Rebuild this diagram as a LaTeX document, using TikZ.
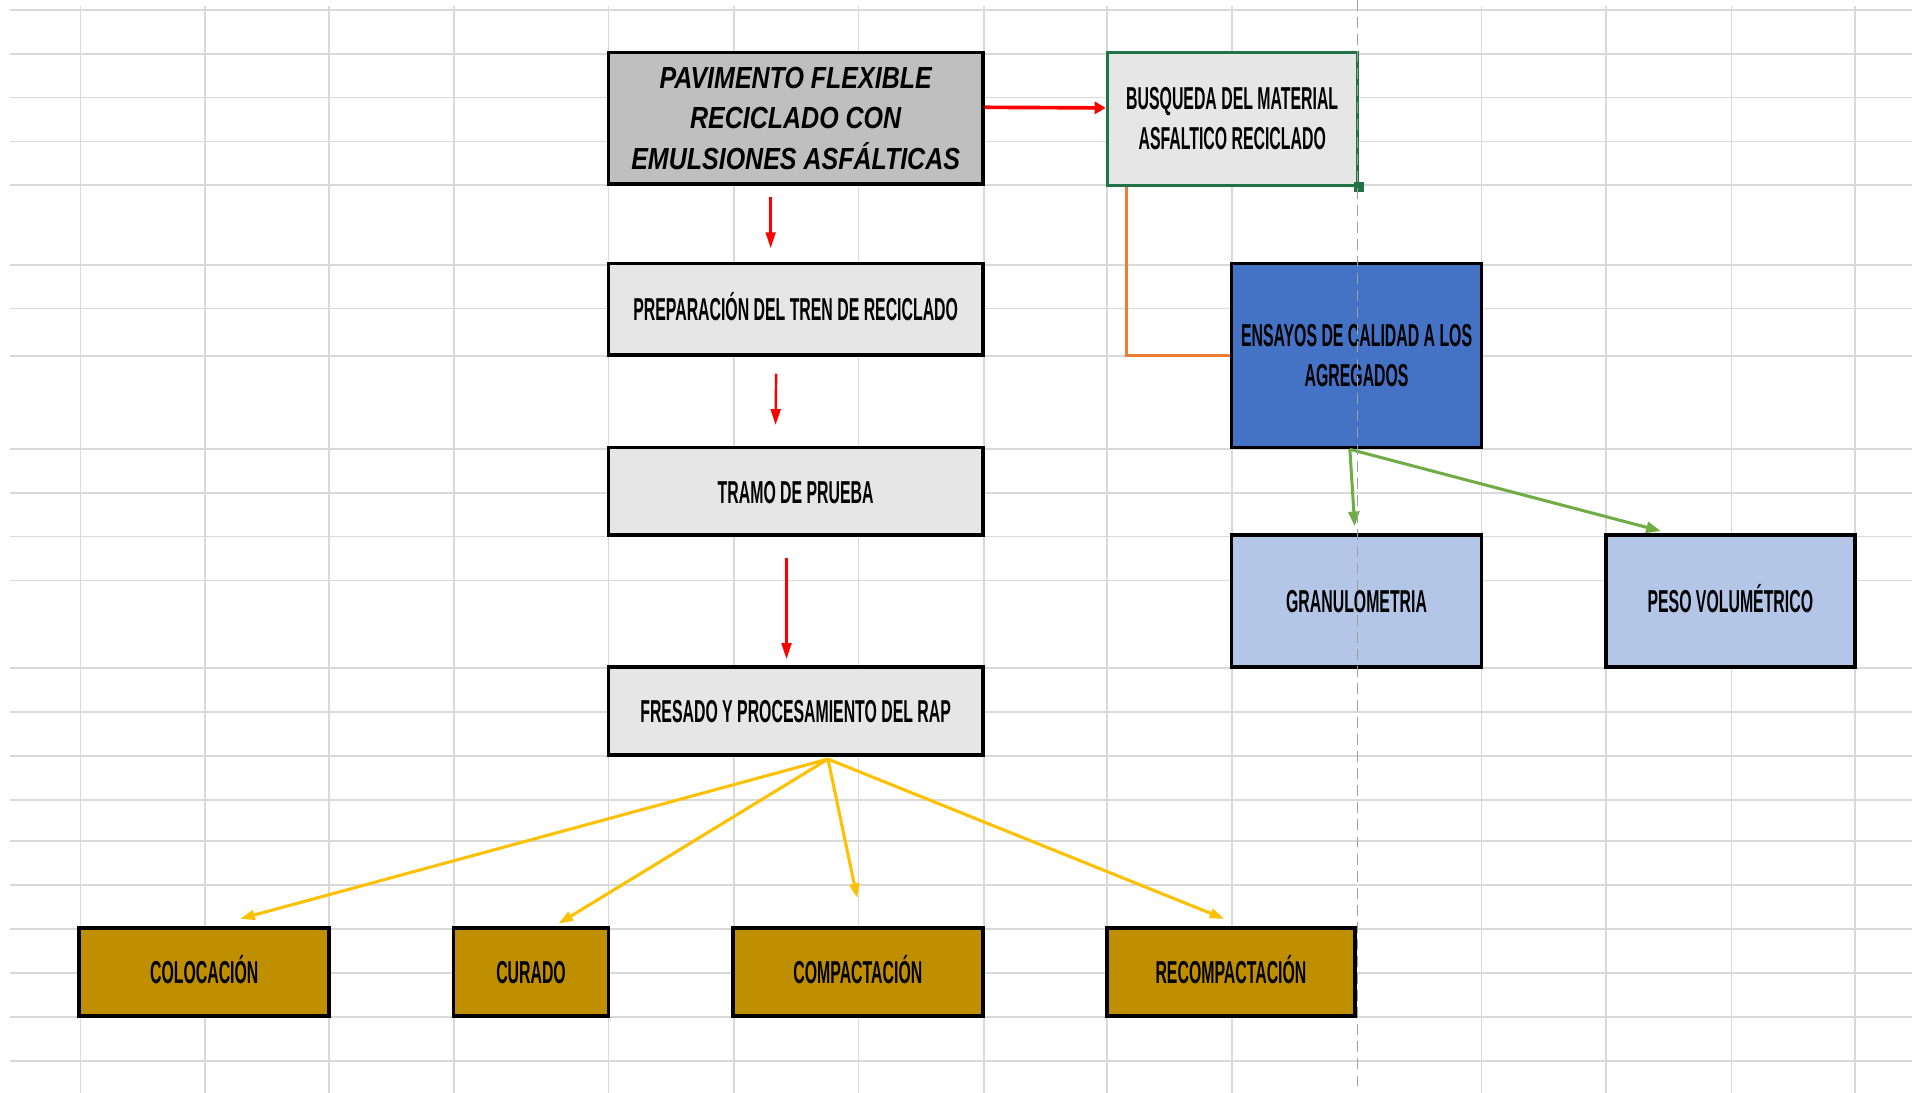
\documentclass[tikz,border=0pt]{standalone}
\usepackage{tikz}
\usepackage{xcolor}
\usepackage{fontspec}
\usetikzlibrary{arrows.meta}

\newfontfamily\boxfont{Liberation Sans}[FakeStretch=0.5]
\newfontfamily\titlefont{Liberation Sans}[FakeStretch=0.82]

\definecolor{titlegray}{HTML}{BFBFBF}
\definecolor{boxgray}{HTML}{E7E6E6}
\definecolor{ensblue}{HTML}{4472C4}
\definecolor{palblue}{HTML}{B4C6E7}
\definecolor{boxgold}{HTML}{BF8F00}
\definecolor{selgreen}{HTML}{217346}
\definecolor{lineorange}{HTML}{ED7D31}
\definecolor{linegreen}{HTML}{70AD47}
\definecolor{lineyellow}{HTML}{FFC000}
\definecolor{gridgray}{HTML}{D9D9D9}

\begin{document}
\begin{tikzpicture}[
  x=1pt, y=-1pt,  box/.style={rectangle,draw,line width=3pt,inner sep=0pt,align=center,font=\boxfont\bfseries\fontsize{26}{33}\selectfont},  onebox/.style={box,text height=19pt,text depth=0pt},  graybox/.style={onebox,fill=boxgray,minimum width=307pt,minimum height=72pt},  bluebox/.style={onebox,fill=palblue,minimum width=205pt,minimum height=108pt},  goldbox/.style={onebox,fill=boxgold,minimum height=72pt},  gridline/.style={gridgray,line width=1.5pt},  redarrow/.style={red,line width=2pt,-{Triangle[length=13pt,width=8pt]}},  greenarrow/.style={linegreen,line width=2.5pt,-{Triangle[length=12pt,width=9pt]}},  yellowarrow/.style={lineyellow,line width=2.5pt,-{Triangle[length=12pt,width=8pt]}}
]
  \fill[white] (0,0) rectangle (1568,896);
  \useasboundingbox (0,0) rectangle (1568,896);
  % sheet grid
  \draw[gridline] (8,8) -- (1568,8) (8,44) -- (1568,44) (8,80) -- (1568,80) (8,116) -- (1568,116)
    (8,152) -- (1568,152) (8,217) -- (1568,217) (8,253) -- (1568,253) (8,292) -- (1568,292)
    (8,368) -- (1568,368) (8,404) -- (1568,404) (8,440) -- (1568,440) (8,476) -- (1568,476)
    (8,548) -- (1568,548) (8,584) -- (1568,584) (8,620) -- (1568,620) (8,656) -- (1568,656)
    (8,690) -- (1568,690) (8,726) -- (1568,726) (8,762) -- (1568,762) (8,798) -- (1568,798)
    (8,834) -- (1568,834) (8,870) -- (1568,870);
  \draw[gridline] (66,5) -- (66,896) (168,5) -- (168,896) (270,5) -- (270,896) (372,5) -- (372,896)
    (499,5) -- (499,896) (602,5) -- (602,896) (704,5) -- (704,896) (807,5) -- (807,896)
    (908,5) -- (908,896) (1010,5) -- (1010,896) (1215,5) -- (1215,896) (1317,5) -- (1317,896)
    (1420,5) -- (1420,896) (1521,5) -- (1521,896);

  \node[box,fill=titlegray,minimum width=307pt,minimum height=108pt,font=\titlefont\bfseries\itshape\fontsize{25}{33}\selectfont] (pav) at (652.5,97) {PAVIMENTO FLEXIBLE\\RECICLADO CON\\EMULSIONES ASFÁLTICAS};
  \node[box,draw=selgreen,line width=2.5pt,fill=boxgray,minimum width=205pt,minimum height=109pt] (busq) at (1010.5,97.5) {BUSQUEDA DEL MATERIAL\\ASFALTICO RECICLADO};
  \node[graybox,minimum height=75pt] (prep) at (652.5,253.5) {PREPARACIÓN DEL TREN DE RECICLADO};
  \node[graybox] (tramo) at (652.5,403) {TRAMO DE PRUEBA};
  \node[graybox] (fres) at (652.5,583) {FRESADO Y PROCESAMIENTO DEL RAP};
  \node[box,fill=ensblue,minimum width=205pt,minimum height=151pt] (ens) at (1112.5,291.5) {ENSAYOS DE CALIDAD A LOS\\AGREGADOS};
  \node[bluebox] (gran) at (1112.5,493) {GRANULOMETRIA};
  \node[bluebox,minimum width=204pt] (peso) at (1419,493) {PESO VOLUMÉTRICO};
  \node[goldbox,minimum width=205pt] (col) at (167.5,797) {COLOCACIÓN};
  \node[goldbox,minimum width=127pt] (cur) at (435.5,797) {CURADO};
  \node[goldbox,minimum width=205pt] (comp) at (703.5,797) {COMPACTACIÓN};
  \node[goldbox,minimum width=203pt] (recomp) at (1009.5,797) {RECOMPACTACIÓN};
  \fill[selgreen] ([shift={(-4,-4)}]busq.south east) rectangle ++(8,8);

  \draw[red,line width=3pt,-{Triangle[length=9pt,width=10pt]}] ([yshift=9pt]pav.east) -- ([yshift=9pt]busq.west);
  \draw[redarrow] ([xshift=-20.5pt,yshift=-9pt]pav.south) -- ([xshift=-20.5pt,yshift=11pt]prep.north);
  \draw[redarrow] ([xshift=-16pt,yshift=-14pt]prep.south) -- ([xshift=-16.5pt,yshift=17pt]tramo.north);
  \draw[redarrow] ([xshift=-7.5pt,yshift=-17pt]tramo.south) -- ([xshift=-7.5pt,yshift=5pt]fres.north);
  \draw[lineorange,line width=2.5pt] ([xshift=-86.5pt]busq.south) |- (ens.west);
  \draw[greenarrow] ([xshift=-5.5pt]ens.south) -- ([xshift=-1.5pt,yshift=6pt]gran.north);
  \draw[greenarrow] ([xshift=-5.5pt]ens.south) -- ([xshift=-57pt,yshift=2pt]peso.north);
  \draw[yellowarrow] ([xshift=26.5pt,yshift=-2pt]fres.south) -- ([xshift=29.5pt,yshift=6pt]col.north);
  \draw[yellowarrow] ([xshift=26.5pt,yshift=-2pt]fres.south) -- ([xshift=22.5pt,yshift=2pt]cur.north);
  \draw[yellowarrow] ([xshift=26.5pt,yshift=-2pt]fres.south) -- ([xshift=-0.5pt,yshift=23pt]comp.north);
  \draw[yellowarrow] ([xshift=26.5pt,yshift=-2pt]fres.south) -- ([xshift=-5.5pt,yshift=6pt]recomp.north);

  % page break
  \draw[gray!75,line width=1pt,dash pattern=on 9pt off 5pt] (1113,0) -- (1113,896);
\end{tikzpicture}
\end{document}
